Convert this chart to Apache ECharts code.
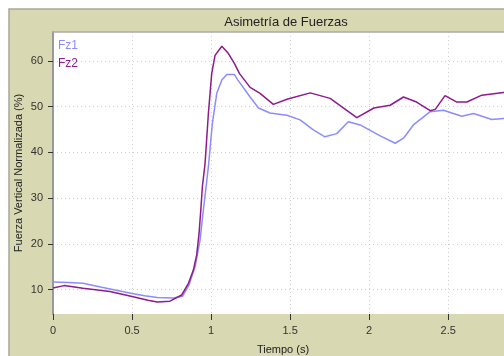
<!DOCTYPE html>
<html><head><meta charset="utf-8">
<script src="https://cdn.jsdelivr.net/npm/echarts@6/dist/echarts.min.js"></script>
<style>html,body{margin:0;padding:0;background:#fff}#c{width:504px;height:356px}</style>
</head><body><div id="c"></div>
<script>
const chartTitle = 'Asimetría de Fuerzas';
const xName = 'Tiempo (s)';
const yName = 'Fuerza Vertical Normalizada (%)';
const seriesNames = ['Fz1', 'Fz2'];
const yTicks = [10, 20, 30, 40, 50, 60];

const fz1Time = [0, 0.1, 0.19, 0.3, 0.4, 0.5, 0.58, 0.66, 0.76, 0.82, 0.86, 0.9, 0.93, 0.951, 0.972, 0.983, 1.008, 1.036, 1.068, 1.1, 1.148, 1.17, 1.247, 1.30, 1.373, 1.48, 1.563, 1.647, 1.72, 1.795, 1.868, 1.943, 2.07, 2.165, 2.217, 2.28, 2.386, 2.47, 2.586, 2.66, 2.777, 2.85, 2.91];
const fz1Values = [11.7, 11.6, 11.4, 10.6, 9.9, 9.2, 8.7, 8.3, 8.2, 8.6, 11.0, 15.2, 20.8, 27.4, 33.5, 36.9, 46.3, 52.9, 55.8, 57.0, 57.0, 55.8, 52.1, 49.7, 48.6, 48.1, 47.1, 44.9, 43.4, 44.1, 46.7, 46.0, 43.6, 42.0, 43.1, 46.0, 48.9, 49.2, 47.9, 48.5, 47.2, 47.4, 47.4];

const fz2Time = [0, 0.07, 0.19, 0.36, 0.5, 0.6, 0.66, 0.74, 0.814, 0.857, 0.888, 0.909, 0.924, 0.935, 0.945, 0.962, 0.983, 1.004, 1.025, 1.068, 1.11, 1.148, 1.18, 1.247, 1.31, 1.394, 1.48, 1.627, 1.753, 1.922, 2.03, 2.133, 2.217, 2.30, 2.386, 2.418, 2.48, 2.555, 2.618, 2.713, 2.85, 2.91];
const fz2Values = [10.4, 10.9, 10.3, 9.6, 8.5, 7.7, 7.3, 7.5, 8.85, 11.4, 14.3, 17.6, 22.3, 27.4, 32.5, 37.6, 48.5, 57.2, 61.2, 63.2, 61.6, 59.4, 57.2, 54.2, 52.9, 50.5, 51.6, 53.0, 51.8, 47.6, 49.7, 50.3, 52.1, 51.0, 49.1, 49.4, 52.4, 51.0, 51.0, 52.5, 53.1, 53.1];

const colors = ['#8c8cff', '#8e1a8e'];
const font = 'Liberation Sans, Arial, sans-serif';

const chart = echarts.init(document.getElementById('c'), null, {renderer: 'canvas'});
const pair = (t, v) => t.map((x, i) => [x, v[i]]);

chart.setOption({
  animation: false,
  backgroundColor: '#fff',
  graphic: [{
    type: 'rect', z: -10, silent: true,
    shape: {x: 9, y: 9, width: 560, height: 360},
    style: {fill: '#d8d8b2', stroke: '#a8a898', lineWidth: 1.5}
  }],
  title: {
    text: chartTitle, left: 281, top: 11, textAlign: 'center',
    textStyle: {fontFamily: font, fontSize: 13, fontWeight: 'normal', color: '#222'}
  },
  legend: {
    orient: 'vertical', left: 48, top: 35, itemWidth: 0, itemHeight: 0, itemGap: 6,
    icon: 'none',
    data: [
      {name: seriesNames[0], textStyle: {color: colors[0]}},
      {name: seriesNames[1], textStyle: {color: colors[1]}}
    ],
    textStyle: {fontFamily: font, fontSize: 12}
  },
  grid: {left: 53, top: 32, width: 460, height: 282, outerBoundsMode: 'none', containLabel: false,
    show: true, backgroundColor: '#fff', borderWidth: 0},
  xAxis: [{
    type: 'value', min: 0, max: 2.91, interval: 0.5,
    name: xName, nameLocation: 'middle', nameGap: 30,
    nameTextStyle: {fontFamily: font, fontSize: 11, color: '#222'},
    axisLine: {show: false},
    axisTick: {show: true, length: 6, lineStyle: {color: '#333', width: 1}},
    axisLabel: {fontFamily: font, fontSize: 11, color: '#333', margin: 11,
      formatter: v => (v > 2.86 ? '' : String(v))},
    splitLine: {show: true, lineStyle: {color: '#cfcfcf', type: [1, 3], width: 1}}
  }, {
    type: 'value', position: 'top', min: 0, max: 2.91,
    axisLine: {show: true, onZero: false, lineStyle: {color: '#aaa', width: 1.5}},
    axisTick: {show: false}, axisLabel: {show: false}, splitLine: {show: false}
  }],
  yAxis: {
    type: 'value', min: 4.7, max: 66.3,
    name: yName, nameLocation: 'middle', nameGap: 29, nameMoveOverlap: false,
    nameTextStyle: {fontFamily: font, fontSize: 11, color: '#222'},
    axisLine: {show: true, lineStyle: {color: '#999', width: 2}},
    axisTick: {show: true, length: 5, customValues: yTicks, lineStyle: {color: '#333'}},
    axisLabel: {fontFamily: font, fontSize: 11, color: '#333', margin: 10, customValues: yTicks},
    splitLine: {show: true, lineStyle: {color: '#cfcfcf', type: [1, 3], width: 1}}
  },
  series: [
    {name: seriesNames[0], type: 'line', showSymbol: false, symbol: 'none', data: pair(fz1Time, fz1Values),
      lineStyle: {color: colors[0], width: 1.5}, itemStyle: {color: colors[0]}},
    {name: seriesNames[1], type: 'line', showSymbol: false, symbol: 'none', data: pair(fz2Time, fz2Values),
      lineStyle: {color: colors[1], width: 1.5}, itemStyle: {color: colors[1]}}
  ]
});
</script></body></html>
